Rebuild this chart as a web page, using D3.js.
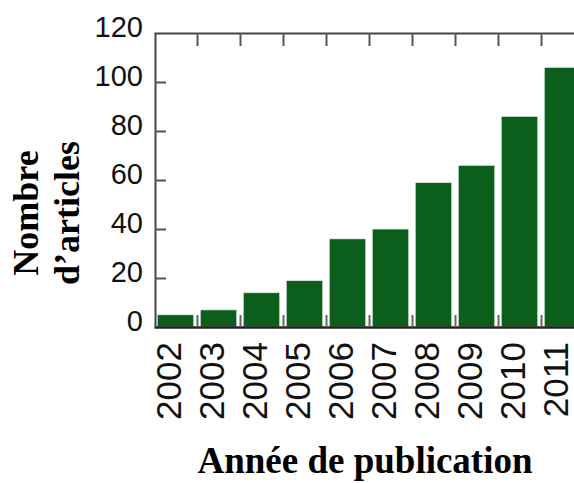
<!DOCTYPE html>
<html>
<head>
<meta charset="utf-8">
<script src="https://cdn.jsdelivr.net/npm/d3@7"></script>
<style>
  body { margin: 0; background: #fff; }
  svg { display: block; }
</style>
</head>
<body>
<div id="chart"></div>
<script>
// data
const years = ["2002", "2003", "2004", "2005", "2006", "2007", "2008", "2009", "2010", "2011"]
const articles = [5, 7, 14, 19, 36, 40, 59, 66, 86, 106]
const yTicks = [0, 20, 40, 60, 80, 100, 120]

const width = 574
const height = 483
// plot frame (right side runs past the window, like the source crop)
const plot = { left: 154, right: 584, top: 33, bottom: 327 }

const svg = d3.select("#chart").append("svg")
  .attr("width", width)
  .attr("height", height)

const x = d3.scaleBand()
  .domain(years)
  .range([plot.left, plot.right])
  .paddingInner(0.15)
  .paddingOuter(0.075)

// index scale, used for the little ticks between the bars
const xi = d3.scaleLinear()
  .domain([0, years.length])
  .range([plot.left, plot.right])

const y = d3.scaleLinear()
  .domain([0, 120])
  .range([plot.bottom, plot.top])

// bars
svg.append("g")
  .selectAll("rect")
  .data(years)
  .join("rect")
  .attr("x", d => x(d))
  .attr("y", (d, i) => y(articles[i]))
  .attr("width", x.bandwidth())
  .attr("height", (d, i) => y(0) - y(articles[i]))
  .attr("fill", "#0b5e1c")
  .attr("stroke", "#e8efe8")
  .attr("stroke-width", 0.8)

// top frame with ticks pointing down
const topAxis = svg.append("g")
  .attr("transform", `translate(0,${plot.top})`)
  .call(d3.axisTop(xi).tickValues(d3.range(1, years.length)).tickSize(-13).tickSizeOuter(0).tickFormat(""))
topAxis.select(".domain").attr("stroke", "#444").attr("stroke-width", 2)
topAxis.selectAll(".tick line").attr("stroke", "#555").attr("stroke-width", 2)

// bottom small ticks pointing up between the bars
const bottomAxis = svg.append("g")
  .attr("transform", `translate(0,${plot.bottom})`)
  .call(d3.axisBottom(xi).tickValues(d3.range(1, years.length)).tickSize(-12).tickSizeOuter(0).tickFormat(""))
bottomAxis.select(".domain").attr("stroke", "#222").attr("stroke-width", 2.5)
bottomAxis.selectAll(".tick line").attr("stroke", "#666").attr("stroke-width", 2)

// year labels, rotated
const xAxis = svg.append("g")
  .attr("transform", `translate(0,${plot.bottom})`)
  .call(d3.axisBottom(x).tickSize(0).tickSizeOuter(0))
xAxis.select(".domain").remove()
xAxis.selectAll("text")
  .attr("transform", "rotate(-90)")
  .attr("text-anchor", "end")
  .attr("x", -15)
  .attr("y", 0)
  .attr("dy", 5)
  .attr("dx", 0)
  .attr("fill", "#111")
  .style("font-family", "'Liberation Sans', Arial, sans-serif")
  .style("font-size", "35px")

// left axis, ticks inside
const yAxis = svg.append("g")
  .attr("transform", `translate(${plot.left + 1},0)`)
  .call(d3.axisLeft(y).tickValues(yTicks).tickSize(-11).tickSizeOuter(0).tickPadding(12))
yAxis.select(".domain").attr("stroke", "#444").attr("stroke-width", 2)
yAxis.selectAll(".tick line").attr("stroke", "#555").attr("stroke-width", 2)
yAxis.selectAll(".tick").filter(d => d === 0 || d === 120).select("line").remove()
yAxis.selectAll("text")
  .attr("dy", "0.11em")
  .attr("fill", "#111")
  .style("font-family", "'Liberation Sans', Arial, sans-serif")
  .style("font-size", "29px")

// axis titles
const titleFont = "'Liberation Serif', 'Times New Roman', serif"
const yTitle = svg.append("text")
  .attr("transform", "translate(0,213) rotate(-90)")
  .attr("text-anchor", "middle")
  .style("font-family", titleFont)
  .style("font-weight", "bold")
  .style("font-size", "36px")
yTitle.append("tspan").attr("x", 0).attr("y", 38).text("Nombre")
yTitle.append("tspan").attr("x", 0).attr("y", 79).text("d’articles")

svg.append("text")
  .attr("x", 365)
  .attr("y", 473)
  .attr("text-anchor", "middle")
  .style("font-family", titleFont)
  .style("font-weight", "bold")
  .style("font-size", "37px")
  .text("Année de publication")
</script>
</body>
</html>
